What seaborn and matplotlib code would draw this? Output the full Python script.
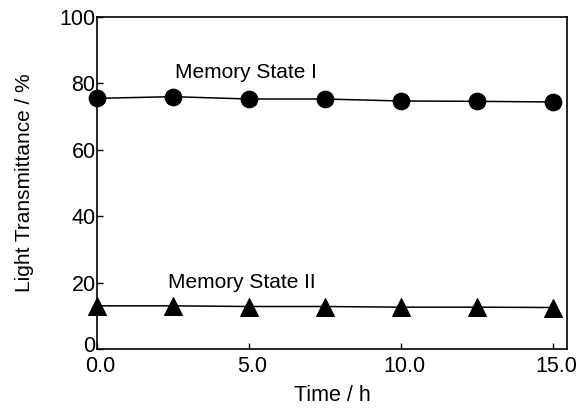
import matplotlib
matplotlib.use("Agg")
import matplotlib.pyplot as plt
import matplotlib.transforms as mtransforms
import seaborn as sns
import pandas as pd

time_h = [0.0, 2.5, 5.0, 7.5, 10.0, 12.5, 15.0]
state1 = [75.5, 76.0, 75.3, 75.3, 74.7, 74.6, 74.4]
state2 = [13.0, 13.0, 12.8, 12.8, 12.6, 12.6, 12.5]
xticks = [0.0, 5.0, 10.0, 15.0]
xticklabels = ["0.0", "5.0", "10.0", "15.0"]
yticks = [0, 20, 40, 60, 80, 100]

sns.set_theme(style="ticks")
plt.rcParams['font.family'] = ['Liberation Sans', 'DejaVu Sans']
plt.rcParams['text.color'] = 'black'
plt.rcParams['axes.labelcolor'] = 'black'

df1 = pd.DataFrame({"t": time_h, "v": state1})
df2 = pd.DataFrame({"t": time_h, "v": state2})

fig = plt.figure(figsize=(5.78, 4.09), dpi=100)
ax = fig.add_axes([97/578, 60/409, 470/578, 332/409])

sns.lineplot(data=df1, x="t", y="v", ax=ax, color="black", lw=1.1,
             marker="o", markersize=12, markeredgecolor="black", clip_on=False)
sns.lineplot(data=df2, x="t", y="v", ax=ax, color="black", lw=1.1,
             marker="^", markersize=13, markeredgecolor="black", clip_on=False)

ax.set_xlim(0, 15.46)
ax.set_ylim(0, 100)
ax.set_xticks(xticks)
ax.set_xticklabels(xticklabels)
ax.set_yticks(yticks)
ax.tick_params(direction="in", length=4, width=1, labelsize=15.5, colors="black",
               top=False, right=False)
ax.tick_params(axis="x", pad=5)
ax.tick_params(axis="y", pad=1)
for s in ax.spines.values():
    s.set_linewidth(1.2)
    s.set_color("black")

# nudge the y "0" label up slightly, and x labels slightly right, as in the reference
fig.canvas.draw()
ylabels = ax.get_yticklabels()
ylabels[0].set_transform(ylabels[0].get_transform() +
                         mtransforms.ScaledTranslation(0, 5/100, fig.dpi_scale_trans))
for lbl in ax.get_xticklabels():
    lbl.set_transform(lbl.get_transform() +
                      mtransforms.ScaledTranslation(3/100, 0, fig.dpi_scale_trans))

ax.set_xlabel("Time / h", fontsize=15.5, labelpad=6)
ax.set_ylabel("Light Transmittance / %", fontsize=15, labelpad=18)

ax.text(2.55, 80.3, "Memory State I", fontsize=15, ha="left", va="bottom")
ax.text(2.33, 17.3, "Memory State II", fontsize=15, ha="left", va="bottom")

fig.savefig("out.png", dpi=100)
